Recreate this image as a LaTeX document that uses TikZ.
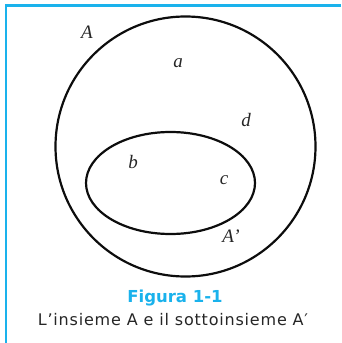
\documentclass[tikz,border=0pt]{standalone}
\usetikzlibrary{shapes.geometric}
\usepackage{fontspec}
\setmainfont{Liberation Serif}
\newfontfamily\capfont[LetterSpace=5]{DejaVu Sans}
\newfontfamily\capboldfont{DejaVu Sans Bold}
\definecolor{frameblue}{RGB}{26,178,236}
\begin{document}
\begin{tikzpicture}[x=1pt,y=-1pt,
  setline/.style={line width=2.2pt,black!95},
  elem/.style={font=\fontsize{19}{19}\selectfont\itshape,inner sep=0pt,text=black!85},
  captext/.style={font=\capfont\fontsize{16}{16}\selectfont,inner sep=0pt}]
\useasboundingbox (0,0) rectangle (341,343);
\draw[frameblue,line width=2.4pt] (5.8,343) -- (5.8,5.6) -- (341,5.6);
\node[setline,draw,circle,minimum size=260pt,inner sep=0pt] (A) at (185.5,146.5) {};
\node[setline,draw,ellipse,minimum width=169pt,minimum height=102pt,inner sep=0pt] (Ap) at (170.5,183) {};
\node[elem] (lA) at (87,32) {A};
\node[elem] (la) at (178,63) {a};
\node[elem] (ld) at (246,120) {d};
\node[elem] (lb) at (133,162) {b};
\node[elem] (lc) at (224,180) {c};
\node[elem] (lAp) at (231,236) {A’};
\node[captext,font=\capboldfont\fontsize{16.5}{16.5}\selectfont,text=frameblue] (fig) at (175,298) {Figura 1-1};
\node[captext,text=black!85] (desc) at (173,320) {L’insieme A e il sottoinsieme A′};
\end{tikzpicture}
\end{document}
